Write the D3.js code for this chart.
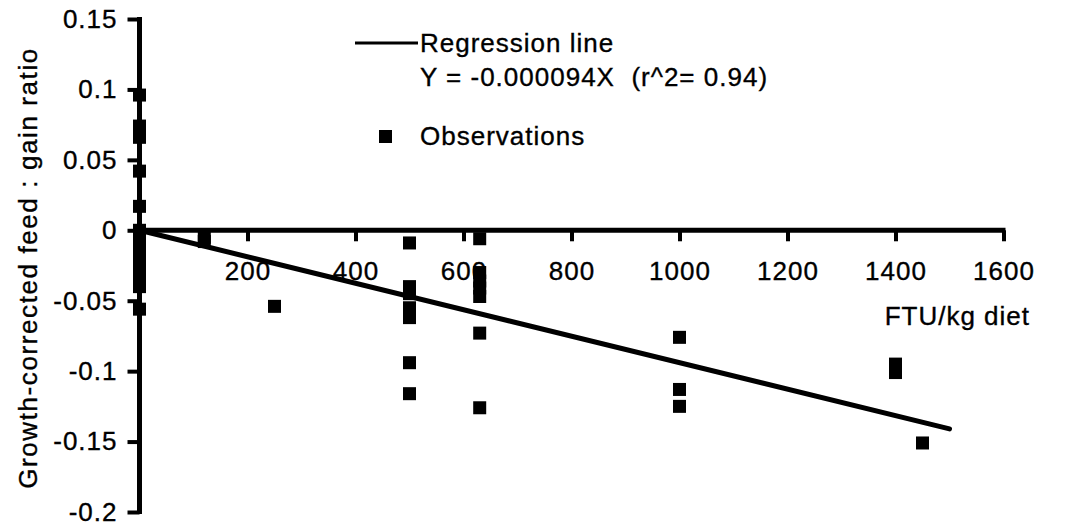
<!DOCTYPE html>
<html>
<head>
<meta charset="utf-8">
<script src="https://cdn.jsdelivr.net/npm/d3@7"></script>
<style>
  body { margin: 0; background: #fff; }
  svg { display: block; font-family: "Liberation Sans", Arial, sans-serif; }
  svg text { stroke: #000; stroke-width: 0.35px; }
</style>
</head>
<body>
<div id="chart"></div>
<script>
// observations: FTU/kg diet vs growth-corrected feed:gain ratio
const obsFtu = [
  0, 0, 0, 0, 0, 0, 0, 0, 0, 0, 0, 0, 0,
  120, 120,
  250,
  500, 500, 500, 500, 500, 500, 500,
  630, 630, 630, 630, 630, 630, 630,
  1000, 1000, 1000,
  1400, 1400,
  1450
];
const obsRatio = [
  0.096, 0.074, 0.070, 0.066, 0.042, 0.017, 0, -0.008, -0.016, -0.024, -0.032, -0.040, -0.056,
  -0.005, -0.008,
  -0.054,
  -0.009, -0.040, -0.045, -0.055, -0.062, -0.094, -0.116,
  -0.006, -0.030, -0.036, -0.041, -0.047, -0.073, -0.126,
  -0.076, -0.113, -0.125,
  -0.095, -0.101,
  -0.151
];
// regression line Y = -0.000094X, drawn from 0 to 1500
const regFtu = [0, 1500];
const regRatio = [0, -0.141];

const xTicks = [200, 400, 600, 800, 1000, 1200, 1400, 1600];
const yTicks = [0.15, 0.1, 0.05, 0, -0.05, -0.1, -0.15, -0.2];

const width = 1066;
const height = 526;
const fontSize = 26;

const x = d3.scaleLinear().domain([0, 1600]).range([139.5, 1003.5]);
const y = d3.scaleLinear().domain([-0.2, 0.15]).range([512, 19]);

const svg = d3.select('#chart')
  .append('svg')
  .attr('width', width)
  .attr('height', height)
  .style('font-size', fontSize + 'px')
  .style('letter-spacing', '1px');

const points = obsFtu.map((d, i) => ({ ftu: d, ratio: obsRatio[i] }));
const size = 13;

// observations
svg.append('g')
  .selectAll('rect')
  .data(points)
  .join('rect')
  .attr('x', d => x(d.ftu) - size / 2)
  .attr('y', d => y(d.ratio) - size / 2)
  .attr('width', size)
  .attr('height', size)
  .attr('fill', '#000');

// regression
const line = d3.line()
  .x(d => x(d[0]))
  .y(d => y(d[1]));

svg.append('path')
  .datum(regFtu.map((d, i) => [d, regRatio[i]]))
  .attr('fill', 'none')
  .attr('stroke', '#000')
  .attr('stroke-width', 5)
  .attr('stroke-linecap', 'round')
  .attr('d', line);

// x axis, sits on y = 0
const xAxis = g => g
  .attr('transform', `translate(0,${y(0)})`)
  .call(d3.axisBottom(x)
    .tickValues(xTicks)
    .tickSize(11)
    .tickPadding(20)
    .tickSizeOuter(0)
    .tickFormat(d => String(d)))
  .call(g => g.select('.domain')
    .attr('stroke-width', 5)
    .attr('d', `M${x(0)},0H${x(1600) + 2}`))
  .call(g => g.selectAll('.tick line').attr('stroke-width', 4))
  .call(g => g.selectAll('.tick text')
    .attr('font-size', fontSize)
    .attr('font-family', null)
    .attr('fill', '#000'));

const yAxis = g => g
  .attr('transform', `translate(${x(0)},0)`)
  .call(d3.axisLeft(y)
    .tickValues(yTicks)
    .tickSize(12)
    .tickPadding(10)
    .tickSizeOuter(0)
    .tickFormat(d => String(d)))
  .call(g => g.select('.domain')
    .attr('stroke-width', 5)
    .attr('d', `M0,${y(0.15) - 2}V${y(-0.2) + 2}`))
  .call(g => g.selectAll('.tick line').attr('stroke-width', 4))
  .call(g => g.selectAll('.tick text')
    .attr('font-size', fontSize)
    .attr('font-family', null)
    .attr('fill', '#000'));

svg.append('g').call(xAxis);
svg.append('g').call(yAxis);

// axis titles
svg.append('text')
  .attr('transform', 'translate(28,268) rotate(-90)')
  .attr('dy', '0.35em')
  .attr('text-anchor', 'middle')
  .style('letter-spacing', '1.6px')
  .text('Growth-corrected feed : gain ratio');

svg.append('text')
  .attr('x', 1030)
  .attr('y', 325)
  .attr('text-anchor', 'end')
  .text('FTU/kg diet');

// legend
const legend = svg.append('g');

legend.append('line')
  .attr('x1', 355)
  .attr('x2', 418)
  .attr('y1', 43)
  .attr('y2', 43)
  .attr('stroke', '#000')
  .attr('stroke-width', 3);

legend.append('text')
  .attr('x', 420)
  .attr('y', 52)
  .text('Regression line');

legend.append('text')
  .attr('x', 420)
  .attr('y', 86)
  .attr('xml:space', 'preserve')
  .text('Y = -0.000094X  (r^2= 0.94)');

legend.append('rect')
  .attr('x', 379)
  .attr('y', 130)
  .attr('width', 13)
  .attr('height', 13)
  .attr('fill', '#000');

legend.append('text')
  .attr('x', 420)
  .attr('y', 145)
  .text('Observations');
</script>
</body>
</html>
